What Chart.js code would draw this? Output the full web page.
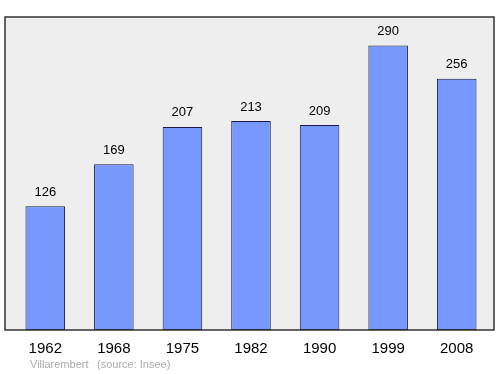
<!DOCTYPE html>
<html>
<head>
<meta charset="utf-8">
<script src="https://cdn.jsdelivr.net/npm/chart.js@4"></script>
<style>
  html, body { margin: 0; padding: 0; background: #ffffff; }
  #wrap { width: 500px; height: 374px; }
</style>
</head>
<body>
<div id="wrap"><canvas id="pop" width="500" height="374"></canvas></div>
<script>
const years = ['1962', '1968', '1975', '1982', '1990', '1999', '2008'];
const population = [126, 169, 207, 213, 209, 290, 256];
const yMax = 319;
const commune = 'Villarembert';
const source = '(source: Insee)';

const fontFamily = '"Liberation Sans", Arial, sans-serif';

// fond gris + cadre + étiquettes
const cadre = {
  id: 'cadre',
  beforeDraw(chart) {
    const ctx = chart.ctx;
    const a = chart.chartArea;
    ctx.save();
    ctx.fillStyle = '#eeeeee';
    ctx.fillRect(5, a.top, 489, a.bottom - a.top);
    ctx.restore();
  },
  afterDatasetsDraw(chart) {
    const ctx = chart.ctx;
    const a = chart.chartArea;
    ctx.save();
    ctx.strokeStyle = '#333333';
    ctx.lineWidth = 1.5;
    ctx.strokeRect(5, a.top, 489, a.bottom - a.top);

    ctx.fillStyle = '#000000';
    ctx.font = '13px ' + fontFamily;
    ctx.textAlign = 'center';
    ctx.textBaseline = 'middle';
    chart.getDatasetMeta(0).data.forEach((bar, i) => {
      ctx.fillText(population[i], bar.x, bar.y - 14);
    });

    ctx.fillStyle = '#aaaaaa';
    ctx.font = '11px ' + fontFamily;
    ctx.textAlign = 'left';
    ctx.fillText(commune, 30, 365);
    ctx.fillText(source, 97, 365);
    ctx.restore();
  }
};

new Chart(document.getElementById('pop'), {
  type: 'bar',
  data: {
    labels: years,
    datasets: [{
      data: population,
      backgroundColor: '#7799ff',
      borderColor: '#1a1a40',
      borderWidth: 1,
      borderSkipped: false,
      categoryPercentage: 0.577,
      barPercentage: 1
    }]
  },
  options: {
    responsive: false,
    animation: false,
    layout: { padding: { left: 11, right: 9, top: 17, bottom: 0 } },
    plugins: {
      legend: { display: false },
      tooltip: { enabled: false }
    },
    scales: {
      x: {
        grid: { display: false },
        border: { display: false },
        ticks: {
          color: '#000000',
          font: { family: fontFamily, size: 15 },
          padding: 2
        },
        afterFit(scale) { scale.height = 44; }
      },
      y: {
        display: false,
        min: 0,
        max: yMax
      }
    }
  },
  plugins: [cadre]
});
</script>
</body>
</html>
